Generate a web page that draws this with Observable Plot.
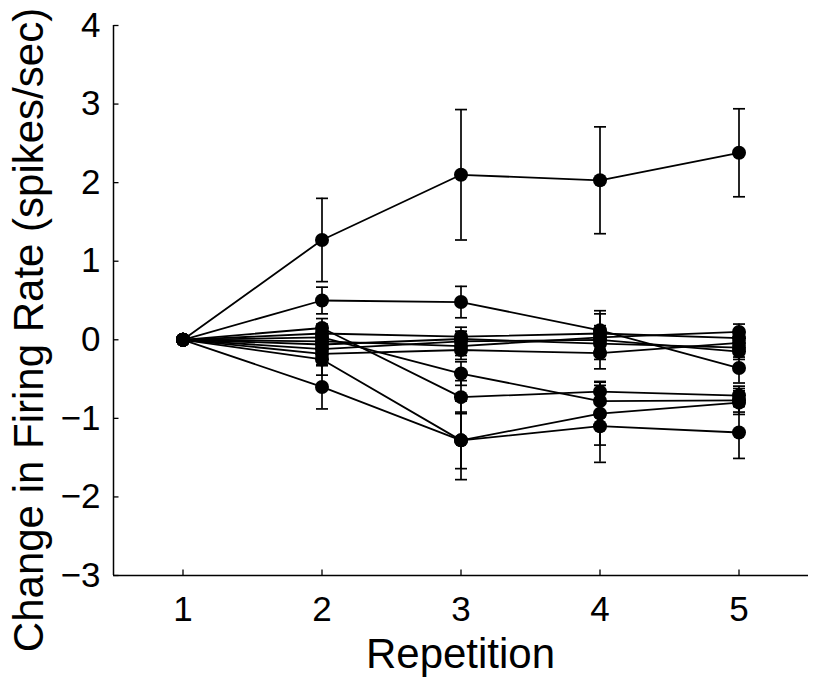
<!DOCTYPE html>
<html>
<head>
<meta charset="utf-8">
<script src="https://cdn.jsdelivr.net/npm/d3@7"></script>
<script src="https://cdn.jsdelivr.net/npm/@observablehq/plot@0.6"></script>
<style>
  html, body { margin: 0; padding: 0; background: #fff; }
</style>
</head>
<body>
<div id="chart"></div>
<script>
const repetitions = [1, 2, 3, 4, 5];
const xTicks = [1, 2, 3, 4, 5];
const yTicks = [-3, -2, -1, 0, 1, 2, 3, 4];
const xDomain = [0.5, 5.5];
const yDomain = [-3, 4];

const s1 = [0, 1.27, 2.10, 2.03, 2.38];
const s2 = [0, 0.50, 0.48, 0.12, -0.36];
const s3 = [0, -0.60, -1.28, -1.10, -1.18];
const s4 = [0, -0.25, -1.28, -0.94, -0.80];
const s5 = [0, 0.03, -0.43, -0.78, -0.77];
const s6 = [0, 0.15, -0.73, -0.66, -0.71];
const s7 = [0, 0.08, 0.04, 0.08, 0.02];
const s8 = [0, -0.02, -0.08, 0.03, 0.10];
const s9 = [0, -0.06, 0.01, -0.05, -0.10];
const s10 = [0, -0.12, -0.02, 0.00, -0.15];
const s11 = [0, -0.18, -0.13, -0.17, -0.04];

const e1 = [0, 0.53, 0.83, 0.68, 0.56];
const e2 = [0, 0.17, 0.20, 0.25, 0.19];
const e3 = [0, 0.28, 0.36, 0.46, 0.33];
const e4 = [0, 0.20, 0.50, 0.40, 0.15];
const e5 = [0, 0.10, 0.15, 0.20, 0.15];
const e6 = [0, 0.12, 0.21, 0.13, 0.12];
const e7 = [0, 0.12, 0.12, 0.25, 0.10];
const e8 = [0, 0.10, 0.12, 0.15, 0.10];
const e9 = [0, 0.15, 0.10, 0.20, 0.12];
const e10 = [0, 0.12, 0.10, 0.15, 0.10];
const e11 = [0, 0.15, 0.12, 0.20, 0.12];

const seriesValues = [s1, s2, s3, s4, s5, s6, s7, s8, s9, s10, s11];
const seriesErrors = [e1, e2, e3, e4, e5, e6, e7, e8, e9, e10, e11];

const data = seriesValues.flatMap((vals, i) =>
  vals.map((v, j) => ({id: i, x: repetitions[j], y: v, err: seriesErrors[i][j]}))
);
const errData = data.filter(d => d.err > 0);
const capData = errData.flatMap(d => [
  {x: d.x, y: d.y - d.err},
  {x: d.x, y: d.y + d.err}
]);

const capSymbol = {draw(ctx) { ctx.moveTo(-6, 0); ctx.lineTo(6, 0); }};
const tickRight = {draw(ctx) { ctx.moveTo(0, 0); ctx.lineTo(5, 0); }};
const tickUp = {draw(ctx) { ctx.moveTo(0, 0); ctx.lineTo(0, -6); }};
const intFormat = d3.format("d");

const svg = Plot.plot({
  width: 814,
  height: 679,
  marginLeft: 113,
  marginRight: 6,
  marginTop: 25,
  marginBottom: 104,
  style: {fontFamily: "'Liberation Sans', Arial, Helvetica, sans-serif", background: "#fff", color: "#000"},
  x: {domain: xDomain},
  y: {domain: yDomain},
  marks: [
    Plot.ruleX([xDomain[0]], {y1: yDomain[0], y2: yDomain[1], stroke: "#000", strokeWidth: 1.5}),
    Plot.ruleY([yDomain[0]], {x1: xDomain[0], x2: xDomain[1], stroke: "#000", strokeWidth: 1.5}),
    Plot.dot(yTicks, {x: () => xDomain[0], y: d => d, symbol: tickRight, stroke: "#000", fill: "none", strokeWidth: 1.3}),
    Plot.dot(xTicks, {x: d => d, y: () => yDomain[0], symbol: tickUp, stroke: "#000", fill: "none", strokeWidth: 1.3}),
    Plot.axisY({ticks: yTicks, tickFormat: intFormat, tickSize: 0, tickPadding: 13, fontSize: 35, label: null}),
    Plot.axisX({ticks: xTicks, tickFormat: intFormat, tickSize: 0, tickPadding: 21, fontSize: 35, label: null}),
    Plot.ruleX(errData, {x: "x", y1: d => d.y - d.err, y2: d => d.y + d.err, stroke: "#000", strokeWidth: 1.7}),
    Plot.dot(capData, {x: "x", y: "y", symbol: capSymbol, stroke: "#000", fill: "none", strokeWidth: 1.7}),
    Plot.line(data, {x: "x", y: "y", z: "id", stroke: "#000", strokeWidth: 1.8}),
    Plot.dot(data, {x: "x", y: "y", r: 7, fill: "#000", stroke: "none"})
  ]
});

const sel = d3.select(svg);
sel.append("text")
  .attr("x", 460.5)
  .attr("y", 668)
  .attr("text-anchor", "middle")
  .attr("font-size", 42)
  .attr("fill", "#000")
  .text("Repetition");
sel.append("text")
  .attr("transform", "translate(43,330) rotate(-90)")
  .attr("text-anchor", "middle")
  .attr("font-size", 42)
  .attr("fill", "#000")
  .text("Change in Firing Rate (spikes/sec)");

document.getElementById("chart").appendChild(svg);
</script>
</body>
</html>
